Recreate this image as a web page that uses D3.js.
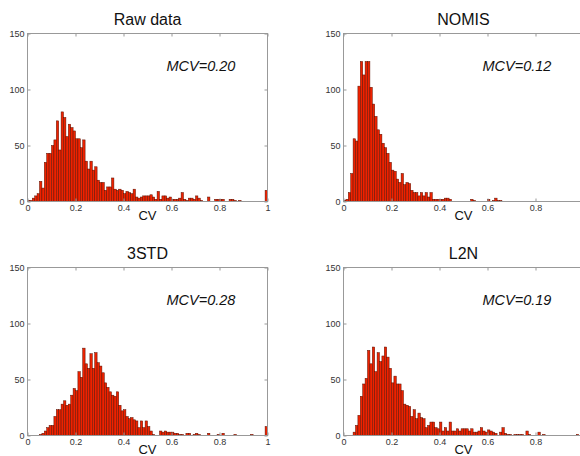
<html>
<head>
  <script src="https://d3js.org/d3.v7.min.js"></script>
  <style>
    body { margin: 0; background: #fff; }
    text { font-family: "Liberation Sans", Arial, sans-serif; }
    .axis .domain { stroke: none; }
    .axis line { stroke: #999; }
    .axis text { fill: #333; font-size: 9px; }
  </style>
</head>
<body>
<svg id="hists" width="580" height="456"></svg>

<script>
  // counts per 0.01-wide CV bin, 0 .. 1
  const rawData = [1,1,3,5,7,18,12,35,43,43,50,55,72,46,80,75,58,69,66,63,
                   56,56,48,55,36,29,36,28,31,19,17,17,10,13,13,21,11,10,11,10,
                   7,9,8,7,11,4,3,4,5,5,5,6,4,2,9,2,5,5,3,4,
                   2,2,2,3,8,2,1,3,3,2,5,3,1,0,0,4,0,0,2,2,
                   2,2,0,0,2,2,1,0,1,0,0,0,0,0,0,0,0,0,0,10];
  const nomis = [1,2,8,25,56,54,103,125,113,125,125,102,87,76,64,60,52,48,43,35,
                 28,27,20,17,25,15,17,16,10,8,8,5,8,5,8,4,8,2,2,2,
                 2,2,3,3,2,0,0,0,0,0,0,0,0,2,1,0,0,0,0,0,
                 2,0,1,3,1,1,0,0,0,0,0,0,0,0,0,0,0,0,0,0,
                 0,0,0,0,0,0,0,0,0,0,0,0,0,0,0,0,0,0,0,0];
  const std3 = [0,0,0,0,0,1,2,4,7,9,9,17,23,23,28,31,27,28,36,42,
                40,57,52,78,64,60,73,60,74,65,62,56,47,43,39,36,35,39,27,22,
                23,17,15,16,14,13,7,13,7,13,8,4,1,0,0,4,3,4,3,3,
                3,2,2,1,1,0,2,2,0,1,2,1,0,0,0,2,0,0,0,1,
                0,2,0,0,0,0,1,0,0,0,0,0,0,1,0,0,0,0,0,8];
  const l2n = [0,0,0,0,3,9,18,35,46,51,76,64,79,57,74,66,71,79,70,60,
               47,53,46,46,40,28,27,26,17,23,15,20,16,15,7,9,12,12,7,6,
               12,4,7,4,12,4,4,6,4,6,6,6,4,6,3,3,4,7,4,3,
               5,4,3,2,0,3,7,2,1,1,0,1,1,1,1,0,4,1,0,0,
               0,3,0,1,0,0,0,0,0,0,0,0,0,0,0,0,0,1,0,0];

  const titles = ["Raw data", "NOMIS", "3STD", "L2N"];
  const mcvLabels = ["MCV=0.20", "MCV=0.12", "MCV=0.28", "MCV=0.19"];
  const yTicks = [0, 50, 100, 150];
  const xTicks = [0, 0.2, 0.4, 0.6, 0.8, 1];
  const binWidth = 0.01;

  const series = [rawData, nomis, std3, l2n];
  const svg = d3.select("svg#hists");
  const svgWidth = +svg.attr("width");

  const plotW = 240, plotH = 168;
  const origins = [[27.5, 33.5], [343.5, 33.5], [27.5, 267.5], [343.5, 267.5]];

  const xScale = d3.scaleLinear().domain([0, 1]).range([0, plotW]);
  const yScale = d3.scaleLinear().domain([0, 150]).range([plotH, 0]);

  series.forEach((counts, k) => {
    let g = svg.append("g")
      .attr("transform", "translate(" + origins[k][0] + "," + origins[k][1] + ")");

    // bars
    g.selectAll("rect.bar")
      .data(counts.map((c, i) => ({bin: i, count: c})).filter(d => d.count > 0))
      .join("rect")
      .attr("class", "bar")
      .attr("x", d => xScale(d.bin * binWidth))
      .attr("width", xScale(binWidth) - xScale(0))
      .attr("y", d => yScale(d.count))
      .attr("height", d => plotH - yScale(d.count))
      .attr("fill", "#ee2200")
      .attr("stroke", "#5a1000")
      .attr("stroke-width", 0.5);

    // axis box
    g.append("rect")
      .attr("width", plotW)
      .attr("height", plotH)
      .attr("fill", "none")
      .attr("stroke", "#999");

    // right-hand panels run past the page edge, so drop labels that would be cut
    let shownX = xTicks.filter(t => origins[k][0] + xScale(t) + 4 <= svgWidth);

    g.append("g").attr("class", "axis")
      .attr("transform", "translate(0," + plotH + ")")
      .call(d3.axisBottom(xScale).tickValues(shownX).tickSize(-3).tickPadding(3).tickFormat(d => d));
    g.append("g").attr("class", "axis")
      .call(d3.axisTop(xScale).tickValues(shownX).tickSize(-3).tickFormat(""));
    g.append("g").attr("class", "axis")
      .call(d3.axisLeft(yScale).tickValues(yTicks).tickSize(-3).tickPadding(3));
    g.append("g").attr("class", "axis")
      .attr("transform", "translate(" + plotW + ",0)")
      .call(d3.axisRight(yScale).tickValues(yTicks).tickSize(-3).tickFormat(""));

    g.append("text")
      .attr("x", plotW / 2)
      .attr("y", -8.5)
      .attr("text-anchor", "middle")
      .attr("font-size", 16)
      .attr("fill", "#111")
      .text(titles[k]);

    g.append("text")
      .attr("x", 139)
      .attr("y", 37)
      .attr("font-size", 14.5)
      .attr("font-style", "italic")
      .attr("fill", "#111")
      .text(mcvLabels[k]);

    g.append("text")
      .attr("x", plotW / 2)
      .attr("y", plotH + 18.5)
      .attr("text-anchor", "middle")
      .attr("font-size", 13)
      .attr("fill", "#111")
      .text("CV");
  });
</script>
</body>
</html>
